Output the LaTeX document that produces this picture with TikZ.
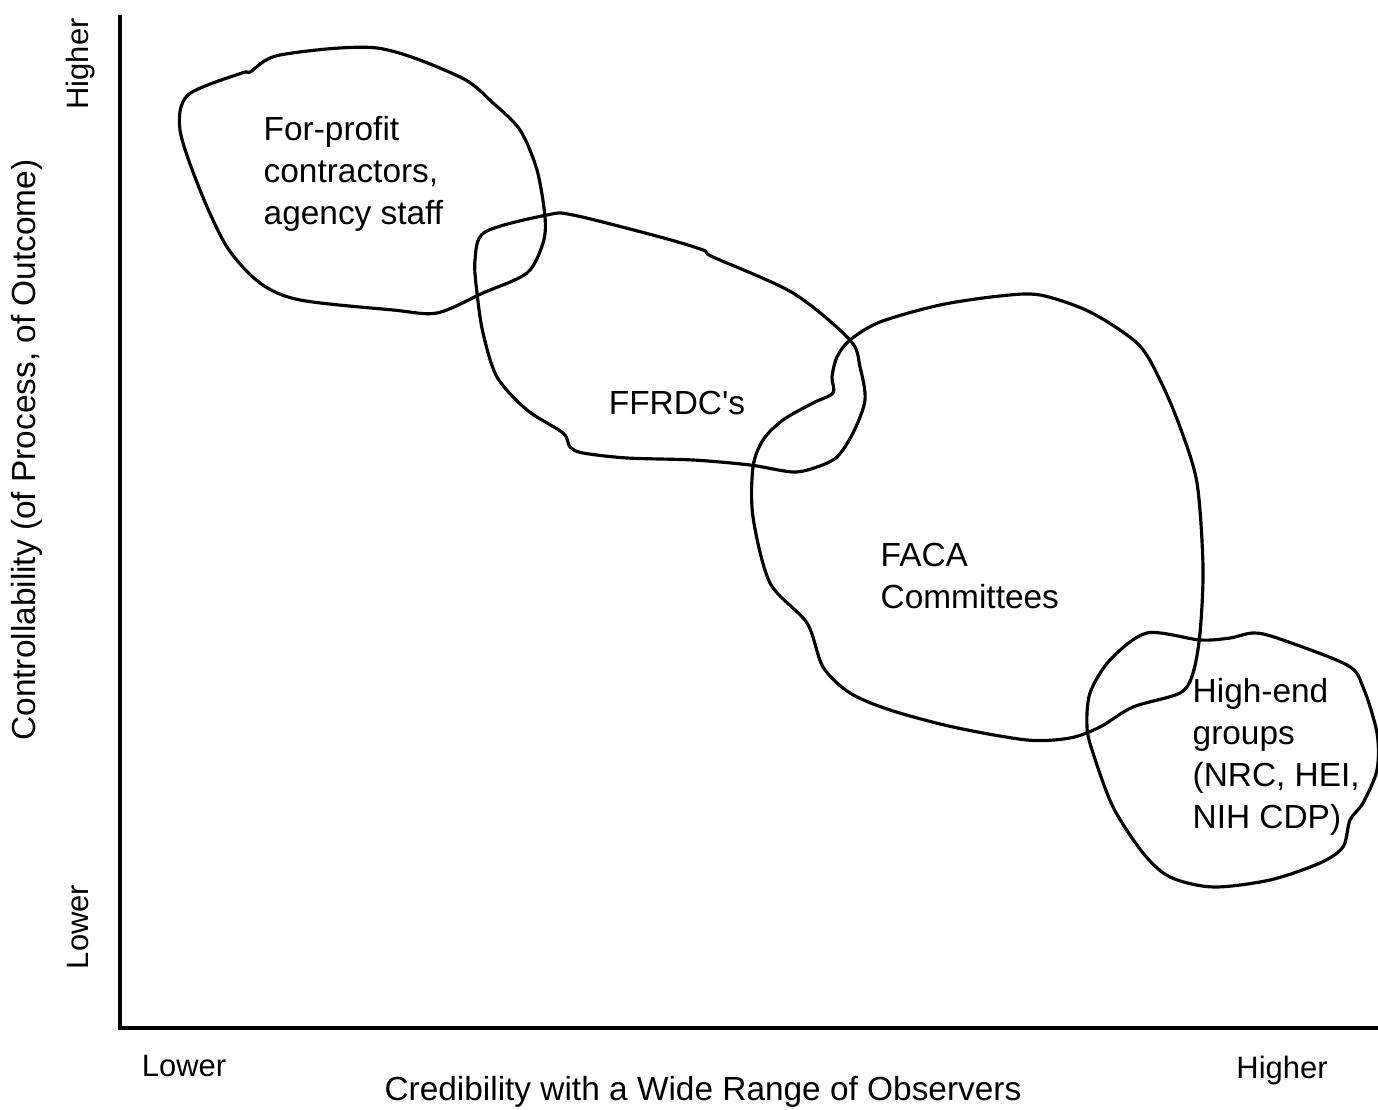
\documentclass[tikz,border=0pt]{standalone}
\usepackage{fontspec}
\setmainfont{Liberation Sans}
\usepackage{tikz}
\usetikzlibrary{calc}
\tikzstyle{blob}  = [line width=0.9pt, line join=round]
\tikzstyle{axis}  = [line width=1.1pt]

\begin{document}
\begin{tikzpicture}[
    x=0.01cm, y=-0.01cm,
    lbl/.style={font=\fontsize{9.5}{12}\selectfont, align=left, inner sep=0pt},
    axlbl/.style={font=\fontsize{9.5}{12}\selectfont, inner sep=0pt},
    endlbl/.style={font=\fontsize{8.8}{11}\selectfont, inner sep=0pt},
  ]
  \useasboundingbox (0,0) rectangle (1378,1110);
  % axes
  \coordinate (origin) at (120,1028);
  \coordinate (ytop) at (120,15);
  \coordinate (xend) at (1378,1028);
  \draw[axis] (ytop) -- (origin) -- (xend);
  \node[endlbl, rotate=90] (ylow) at (78,927) {Lower};
  \node[endlbl, rotate=90] (yhigh) at (80,64) {Higher};
  \node[axlbl, rotate=90] (ytitle) at (27,450) {Controllability (of Process, of Outcome)};
  \node[endlbl] (xlow) at (184,1066) {Lower};
  \node[endlbl] (xhigh) at (1282,1071) {Higher};
  \node[axlbl] (xtitle) at (703,1092) {Credibility with a Wide Range of Observers};
  % for-profit
  \draw[blob] plot[smooth cycle, tension=0.5] coordinates {
    (188,95) (242,73) (250,72) (280,55) (377,48) (460,77) (493,103)
    (520,130) (537,170) (545,217) (543,243) (527,273) (483,293)
    (437,313) (393,310) (300,300) (260,283) (227,247) (200,190)
    (180,130)};
  \node[lbl, anchor=west] (forprofit) at (263,174) {For-profit\\contractors,\\agency staff};
  % ffrdc
  \draw[blob] plot[smooth cycle, tension=0.5] coordinates {
    (485,232) (547,215) (573,215) (660,237) (703,250) (713,257)
    (793,293) (850,340) (860,367) (865,400) (853,433) (837,457)
    (817,467) (793,472) (750,465) (693,460) (627,458) (583,453)
    (570,447) (563,433) (527,410) (497,377) (483,333) (477,293)
    (475,260)};
  \node[lbl] (ffrdc) at (677,403) {FFRDC\textquotesingle s};
  % faca
  \draw[blob] plot[smooth cycle, tension=0.5] coordinates {
    (753,467) (753,517) (770,583) (807,623) (823,667) (850,693)
    (890,710) (953,727) (1027,740) (1070,738) (1100,727) (1133,707)
    (1180,693) (1193,673) (1200,633) (1203,567) (1197,483) (1180,427)
    (1160,380) (1138,344) (1090,312) (1040,295) (1000,296) (940,305)
    (880,322) (850,340) (837,357) (832,377) (833,393) (813,403)
    (783,420) (763,440)};
  \node[lbl, anchor=west] (faca) at (880,576) {FACA\\Committees};
  % high-end
  \draw[blob] plot[smooth cycle, tension=0.5] coordinates {
    (1147,633) (1200,640) (1230,638) (1253,633) (1277,638) (1347,665)
    (1363,687) (1377,733) (1377,770) (1363,803) (1350,820) (1343,847)
    (1320,863) (1270,880) (1213,887) (1170,877) (1143,853) (1113,807)
    (1093,753) (1087,727) (1090,693) (1110,660)};
  \node[lbl, anchor=west] (highend) at (1192,757) {High-end\\groups\\(NRC, HEI,\\NIH CDP)};
\end{tikzpicture}
\end{document}
